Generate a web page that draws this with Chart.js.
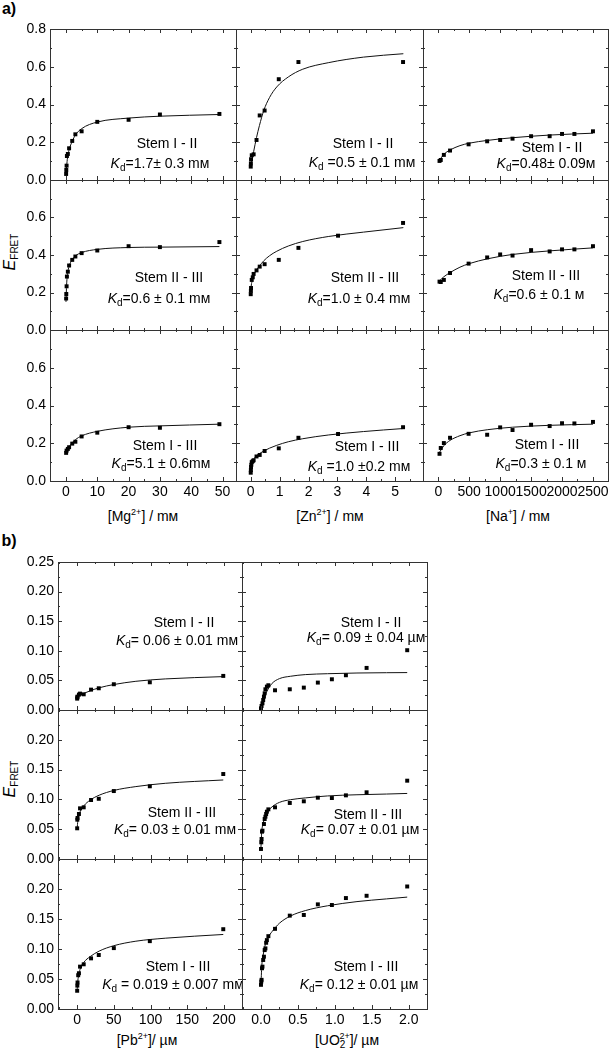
<!DOCTYPE html>
<html>
<head>
<meta charset="utf-8">
<script src="https://cdn.jsdelivr.net/npm/chart.js@4.4.0/dist/chart.umd.min.js"></script>
<style>
html, body { margin: 0; padding: 0; background: #fff; }
body { width: 612px; height: 1050px; position: relative; overflow: hidden;
       font-family: "Liberation Sans", Arial, sans-serif; color: #000; }
canvas { position: absolute; }
.t { position: absolute; white-space: nowrap; transform: translate(-50%, -50%);
     font-size: 14px; line-height: 1; }
.t sub { font-size: 10px; vertical-align: -3px; line-height: 0; }
.t sup { font-size: 9px; vertical-align: 6px; line-height: 0; }
.part { font-weight: bold; font-size: 16px; }
.yt { transform: translate(-50%, -50%) rotate(-90deg); font-size: 16px; }
</style>
</head>
<body>
<div class="t part" style="left:9px;top:9px">a)</div>
<div class="t part" style="left:9px;top:541px">b)</div>
<div class="t yt" style="left:10px;top:252px"><i>E</i><sub>FRET</sub></div>
<div class="t yt" style="left:10px;top:779px"><i>E</i><sub>FRET</sub></div>
<div class="t" style="left:143px;top:516px">[Mg<sup>2+</sup>] / mᴍ</div>
<div class="t" style="left:330px;top:516px">[Zn<sup>2+</sup>] / mᴍ</div>
<div class="t" style="left:518px;top:516px">[Na<sup>+</sup>] / mᴍ</div>
<div class="t" style="left:147px;top:1040px">[Pb<sup>2+</sup>]/ µᴍ</div>
<div class="t" style="left:347px;top:1040px">[UO<sub>2</sub><sup style="margin-left:-6px">2+</sup>]/ µᴍ</div>
<script>
'use strict';

// tick labels
var mgTicks = [0, 10, 20, 30, 40, 50];
var znTicks = [0, 1, 2, 3, 4, 5];
var naTicks = [0, 500, 1000, 1500, 2000, 2500];
var pbTicks = [0, 50, 100, 150, 200];
var uoTicks = [0, 0.5, 1, 1.5, 2];
var aTicksY = [0, 0.2, 0.4, 0.6, 0.8];
var bTicksY = [0, 0.05, 0.1, 0.15, 0.2, 0.25];

// [Mg2+] / mM
var mgConc = [0.05, 0.1, 0.2, 0.3, 0.6, 1, 2, 3, 5, 10, 20, 30, 49];
var mgStem12 = [0.032, 0.053, 0.076, 0.127, 0.138, 0.168, 0.207, 0.242, 0.258, 0.308, 0.319, 0.347, 0.350];
var mgStem23 = [0.168, 0.192, 0.233, 0.285, 0.311, 0.344, 0.374, 0.392, 0.410, 0.424, 0.447, 0.442, 0.469];
var mgStem13 = [0.149, null, 0.161, null, 0.170, 0.179, 0.198, 0.208, 0.236, 0.256, 0.285, 0.282, 0.301];
var mgFitConc = [0, 0.2, 0.5, 1, 2, 3, 5, 10, 20, 30, 49];
var mgFit12 = [0.03, 0.07, 0.12, 0.16, 0.205, 0.238, 0.272, 0.307, 0.328, 0.338, 0.347];
var mgFit23 = [0.15, 0.24, 0.30, 0.34, 0.375, 0.395, 0.413, 0.43, 0.44, 0.442, 0.445];
var mgFit13 = [0.148, 0.155, 0.165, 0.18, 0.203, 0.219, 0.239, 0.263, 0.285, 0.292, 0.301];

// [Zn2+] / mM
var znConc = [0, 0.005, 0.01, 0.02, 0.035, 0.07, 0.1, 0.2, 0.31, 0.48, 0.97, 1.65, 3.02, 5.27];
var znStem12 = [0.071, 0.088, 0.110, null, 0.131, null, 0.136, 0.212, 0.342, 0.368, 0.534, 0.625, null, 0.625];
var znStem23 = [0.191, 0.209, 0.224, null, 0.267, 0.281, 0.299, 0.318, 0.338, 0.351, 0.374, 0.438, 0.503, 0.571];
var znStem13 = [0.044, 0.058, 0.074, 0.086, 0.100, 0.105, 0.110, 0.130, 0.138, 0.159, 0.173, 0.229, 0.249, 0.285];
var znFitConc = [0, 0.02, 0.05, 0.1, 0.2, 0.3, 0.45, 0.65, 0.9, 1.3, 1.8, 2.7, 3.9, 5.28];
var znFit12 = [0.07, 0.09, 0.11, 0.15, 0.225, 0.288, 0.368, 0.437, 0.493, 0.546, 0.587, 0.622, 0.651, 0.669];
var znFit23 = [0.205, 0.24, 0.262, 0.29, 0.32, 0.341, 0.369, 0.396, 0.42, 0.448, 0.472, 0.499, 0.522, 0.546];
var znFit13 = [0.05, 0.085, 0.102, 0.115, 0.135, 0.145, 0.159, 0.174, 0.189, 0.208, 0.224, 0.244, 0.262, 0.278];

// [Na+] / mM
var naConc = [20, 40, 90, 190, 490, 790, 1000, 1200, 1500, 1800, 2000, 2200, 2500];
var naStem12 = [0.101, 0.106, 0.133, 0.156, 0.189, 0.205, 0.212, 0.219, 0.232, 0.232, 0.244, 0.244, 0.258];
var naStem23 = [0.258, 0.256, 0.267, 0.304, 0.354, 0.387, 0.403, 0.397, 0.426, 0.419, 0.430, 0.430, 0.447];
var naStem13 = [0.144, 0.175, 0.201, 0.229, 0.250, 0.245, 0.284, 0.270, 0.298, 0.291, 0.306, 0.305, 0.313];
var naFitConc = [20, 90, 190, 350, 500, 800, 1200, 1800, 2500];
var naFit12 = [0.105, 0.136, 0.159, 0.182, 0.195, 0.21, 0.224, 0.238, 0.248];
var naFit23 = [0.262, 0.284, 0.306, 0.335, 0.354, 0.38, 0.403, 0.422, 0.438];
var naFit13 = [0.152, 0.187, 0.215, 0.24, 0.255, 0.272, 0.285, 0.295, 0.301];

// [Pb2+] / uM
var pbConc = [0.1, 0.3, 0.6, 1.5, 2.5, 4, 9, 19, 29.5, 50, 99, 199];
var pbStem12 = [0.0192, 0.0214, 0.0226, null, 0.026, 0.0277, 0.0265, 0.0344, 0.0367, 0.0435, 0.0468, 0.0576];
var pbStem23 = [0.0515, 0.066, 0.0688, null, 0.0755, 0.085, 0.0867, 0.099, 0.101, 0.114, 0.122, 0.1426];
var pbStem13 = [0.0304, 0.039, 0.0442, 0.0563, 0.0596, 0.0706, 0.0745, 0.0844, 0.09, 0.1015, 0.1131, 0.133];
var pbFitConc = [0, 1, 4, 9, 18, 30, 50, 80, 120, 199];
var pbFit12 = [0.017, 0.02, 0.025, 0.028, 0.0325, 0.0375, 0.043, 0.0485, 0.0525, 0.0564];
var pbFit23 = [0.05, 0.064, 0.079, 0.089, 0.099, 0.107, 0.115, 0.1215, 0.127, 0.1326];
var pbFit13 = [0.03, 0.047, 0.066, 0.0775, 0.0875, 0.0965, 0.1055, 0.113, 0.118, 0.1242];

// [UO2 2+] / uM
var uoConc = [0, 0.004, 0.008, 0.014, 0.02, 0.03, 0.04, 0.05, 0.06, 0.07, 0.08, 0.1, 0.19, 0.39, 0.58, 0.77, 0.96, 1.15, 1.43, 1.98];
var uoStem12 = [0.0028, null, 0.0068, null, 0.0113, 0.0169, 0.0226, 0.0282, 0.035, null, 0.0395, 0.0418, 0.0333, 0.035, 0.0378, 0.0463, 0.0519, 0.0587, 0.0711, 0.101];
var uoStem23 = [0.0168, 0.028, 0.0336, 0.0459, 0.0475, null, 0.0587, 0.0671, 0.071, 0.0755, 0.0794, 0.0833, 0.0867, 0.094, 0.0968, 0.1029, 0.1023, 0.1068, 0.1119, 0.1314];
var uoStem13 = [0.0403, 0.0458, 0.0486, 0.0679, 0.0706, 0.0817, 0.0872, 0.0982, 0.101, 0.1104, 0.1148, 0.1214, 0.1336, 0.1556, 0.1567, 0.1744, 0.1733, 0.1849, 0.1887, 0.2042];
var uoFitConc = [0, 0.01, 0.03, 0.06, 0.1, 0.15, 0.25, 0.4, 0.6, 0.9, 1.3, 1.7, 1.98];
var uoFit12 = [0, 0.005, 0.014, 0.026, 0.036, 0.045, 0.053, 0.057, 0.0598, 0.0613, 0.0625, 0.063, 0.0632];
var uoFit23 = [0.02, 0.045, 0.06, 0.072, 0.081, 0.0875, 0.095, 0.0995, 0.1025, 0.1058, 0.1078, 0.109, 0.110];
var uoFit13 = [0.04, 0.07, 0.09, 0.108, 0.12, 0.129, 0.143, 0.155, 0.164, 0.172, 0.179, 0.1835, 0.1865];

var stemNames = ['Stem I - II', 'Stem II - III', 'Stem I - III'];
var kdTexts = ['=1.7± 0.3 mᴍ', ' =0.5 ± 0.1 mᴍ', '=0.48± 0.09ᴍ',
               '=0.6 ± 0.1 mᴍ', '=1.0 ± 0.4 mᴍ', '=0.6 ± 0.1 ᴍ',
               '=5.1 ± 0.6mᴍ', ' =1.0 ±0.2 mᴍ', '=0.3 ± 0.1 ᴍ',
               '= 0.06 ± 0.01 mᴍ', '= 0.09 ± 0.04 µᴍ',
               '= 0.03 ± 0.01 mᴍ', '= 0.07 ± 0.01 µᴍ',
               ' = 0.019 ± 0.007 mᴍ', '= 0.12 ± 0.01 µᴍ'];

// layout: panel edges in page pixels
var aCols = [50, 236, 423, 608], aRows = [29, 180, 330, 481];
var bCols = [58, 242, 427], bRows = [562, 710, 859, 1009];
// note centres: stem line x,y then Kd line x,y
var notePos = [[167, 143, 160, 163], [363, 143, 362, 162], [552, 147, 546, 163],
               [169, 277, 159, 298], [365, 277, 359, 298], [546, 275, 539, 294],
               [165, 445, 161, 463], [367, 446, 359, 466], [547, 444, 541, 463],
               [184, 622, 177, 640], [371, 622, 366, 637],
               [182, 812, 175, 829], [368, 814, 360, 829],
               [178, 966, 173, 984], [366, 966, 359, 984]];
var M = {l: 46, t: 12, r: 14, b: 24};

var xAxes = {
    mg: {conc: mgConc, fitConc: mgFitConc, ticks: mgTicks, min: -5.1, max: 54.3, step: 5, dec: 0},
    zn: {conc: znConc, fitConc: znFitConc, ticks: znTicks, min: -0.51, max: 5.96, step: 0.5, dec: 0},
    na: {conc: naConc, fitConc: naFitConc, ticks: naTicks, min: -247, max: 2743, step: 250, dec: 0},
    pb: {conc: pbConc, fitConc: pbFitConc, ticks: pbTicks, min: -26, max: 224.5, step: 25, dec: 0},
    uo: {conc: uoConc, fitConc: uoFitConc, ticks: uoTicks, min: -0.257, max: 2.248, step: 0.25, dec: 1}
};
var yAxes = {
    a: {ticks: aTicksY, min: 0, max: 0.8, step: 0.1, dec: 1, cols: aCols, rows: aRows},
    b: {ticks: bTicksY, min: 0, max: 0.25, step: 0.025, dec: 2, cols: bCols, rows: bRows}
};

var panels = [
    {part: 'a', col: 0, row: 0, x: 'mg', pts: mgStem12, fit: mgFit12},
    {part: 'a', col: 1, row: 0, x: 'zn', pts: znStem12, fit: znFit12},
    {part: 'a', col: 2, row: 0, x: 'na', pts: naStem12, fit: naFit12},
    {part: 'a', col: 0, row: 1, x: 'mg', pts: mgStem23, fit: mgFit23},
    {part: 'a', col: 1, row: 1, x: 'zn', pts: znStem23, fit: znFit23},
    {part: 'a', col: 2, row: 1, x: 'na', pts: naStem23, fit: naFit23},
    {part: 'a', col: 0, row: 2, x: 'mg', pts: mgStem13, fit: mgFit13},
    {part: 'a', col: 1, row: 2, x: 'zn', pts: znStem13, fit: znFit13},
    {part: 'a', col: 2, row: 2, x: 'na', pts: naStem13, fit: naFit13},
    {part: 'b', col: 0, row: 0, x: 'pb', pts: pbStem12, fit: pbFit12},
    {part: 'b', col: 1, row: 0, x: 'uo', pts: uoStem12, fit: uoFit12},
    {part: 'b', col: 0, row: 1, x: 'pb', pts: pbStem23, fit: pbFit23},
    {part: 'b', col: 1, row: 1, x: 'uo', pts: uoStem23, fit: uoFit23},
    {part: 'b', col: 0, row: 2, x: 'pb', pts: pbStem13, fit: pbFit13},
    {part: 'b', col: 1, row: 2, x: 'uo', pts: uoStem13, fit: uoFit13}
];

Chart.defaults.font.family = '"Liberation Sans", Arial, sans-serif';
Chart.defaults.font.size = 14;
Chart.defaults.color = '#000';

var isMajor = function(v, majors) {
    return majors.some(function(m) { return Math.abs(m - v) < 1e-6 * (1 + Math.abs(m)); });
};

// box frame with inward ticks on all four sides
var framePlugin = {
    id: 'frame',
    afterDatasetsDraw: function(chart, args, o) {
        var a = chart.chartArea, ctx = chart.ctx;
        var sx = chart.scales.x, sy = chart.scales.y;
        var i, v, p, len;
        ctx.save();
        ctx.strokeStyle = '#333';
        ctx.lineWidth = 1;
        ctx.strokeRect(Math.round(a.left) + 0.5, Math.round(a.top) + 0.5,
                       Math.round(a.right - a.left), Math.round(a.bottom - a.top));
        ctx.beginPath();
        for (i = Math.ceil(sx.min / o.xStep); i * o.xStep <= sx.max; i++) {
            v = i * o.xStep;
            p = Math.round(sx.getPixelForValue(v)) + 0.5;
            len = isMajor(v, o.xTicks) ? 4 : 2;
            ctx.moveTo(p, a.bottom); ctx.lineTo(p, a.bottom - len);
            ctx.moveTo(p, a.top); ctx.lineTo(p, a.top + len);
        }
        for (i = Math.ceil(sy.min / o.yStep - 1e-6); i * o.yStep <= sy.max + 1e-9; i++) {
            v = i * o.yStep;
            p = Math.round(sy.getPixelForValue(v)) + 0.5;
            len = isMajor(v, o.yTicks) ? 4 : 2;
            ctx.moveTo(a.left, p); ctx.lineTo(a.left + len, p);
            ctx.moveTo(a.right, p); ctx.lineTo(a.right - len, p);
        }
        ctx.stroke();
        ctx.restore();
    }
};

var toPoints = function(xs, ys) {
    return xs.map(function(x, i) { return {x: x, y: ys[i]}; })
             .filter(function(d) { return d.y !== null; });
};

var drawPanel = function(p, n) {
    var ax = xAxes[p.x], ay = yAxes[p.part];
    var x0 = ay.cols[p.col], x1 = ay.cols[p.col + 1];
    var y0 = ay.rows[p.row], y1 = ay.rows[p.row + 1];
    var w = x1 - x0 + M.l + M.r, h = y1 - y0 + M.t + M.b;
    var firstRow = p.row === 0, lastRow = p.row === ay.rows.length - 2, firstCol = p.col === 0;

    var canvas = document.createElement('canvas');
    canvas.width = w;
    canvas.height = h;
    canvas.style.left = (x0 - M.l) + 'px';
    canvas.style.top = (y0 - M.t) + 'px';
    document.body.appendChild(canvas);

    new Chart(canvas.getContext('2d'), {
        type: 'scatter',
        data: {
            datasets: [{
                data: toPoints(ax.conc, p.pts),
                pointStyle: 'rect',
                pointRadius: 2.8,
                pointBackgroundColor: '#000',
                pointBorderWidth: 0
            }, {
                data: toPoints(ax.fitConc, p.fit),
                showLine: true,
                pointRadius: 0,
                borderColor: '#111',
                borderWidth: 1,
                cubicInterpolationMode: 'monotone'
            }]
        },
        options: {
            responsive: false,
            animation: false,
            events: [],
            layout: {padding: {top: M.t, right: M.r, left: 0, bottom: 0}},
            plugins: {
                legend: {display: false},
                tooltip: {enabled: false},
                frame: {xStep: ax.step, xTicks: ax.ticks, yStep: ay.step, yTicks: ay.ticks}
            },
            scales: {
                x: {
                    type: 'linear', min: ax.min, max: ax.max,
                    grid: {display: false, drawTicks: false},
                    border: {display: false},
                    ticks: {
                        display: lastRow, padding: 3, autoSkip: false, maxRotation: 0, minRotation: 0,
                        callback: function(v) { return v.toFixed(ax.dec); }
                    },
                    afterBuildTicks: function(s) { s.ticks = ax.ticks.map(function(v) { return {value: v}; }); },
                    afterFit: function(s) { s.height = M.b; s.paddingLeft = 0; s.paddingRight = 0; }
                },
                y: {
                    type: 'linear', min: ay.min, max: ay.max,
                    grid: {display: false, drawTicks: false},
                    border: {display: false},
                    ticks: {
                        display: firstCol, padding: 4,
                        callback: function(v) { return (!firstRow && v === ay.max) ? '' : v.toFixed(ay.dec); }
                    },
                    afterBuildTicks: function(s) { s.ticks = ay.ticks.map(function(v) { return {value: v}; }); },
                    afterFit: function(s) { s.width = M.l; s.paddingTop = 0; s.paddingBottom = 0; }
                }
            }
        },
        plugins: [framePlugin]
    });

    // panel annotation
    var pos = notePos[n];
    var stem = document.createElement('div');
    stem.className = 't';
    stem.style.left = pos[0] + 'px';
    stem.style.top = pos[1] + 'px';
    stem.textContent = stemNames[p.row];
    document.body.appendChild(stem);
    var kd = document.createElement('div');
    kd.className = 't';
    kd.style.left = pos[2] + 'px';
    kd.style.top = pos[3] + 'px';
    kd.innerHTML = '<i>K</i><sub>d</sub>' + kdTexts[n];
    document.body.appendChild(kd);
};

panels.forEach(drawPanel);
</script>
</body>
</html>
